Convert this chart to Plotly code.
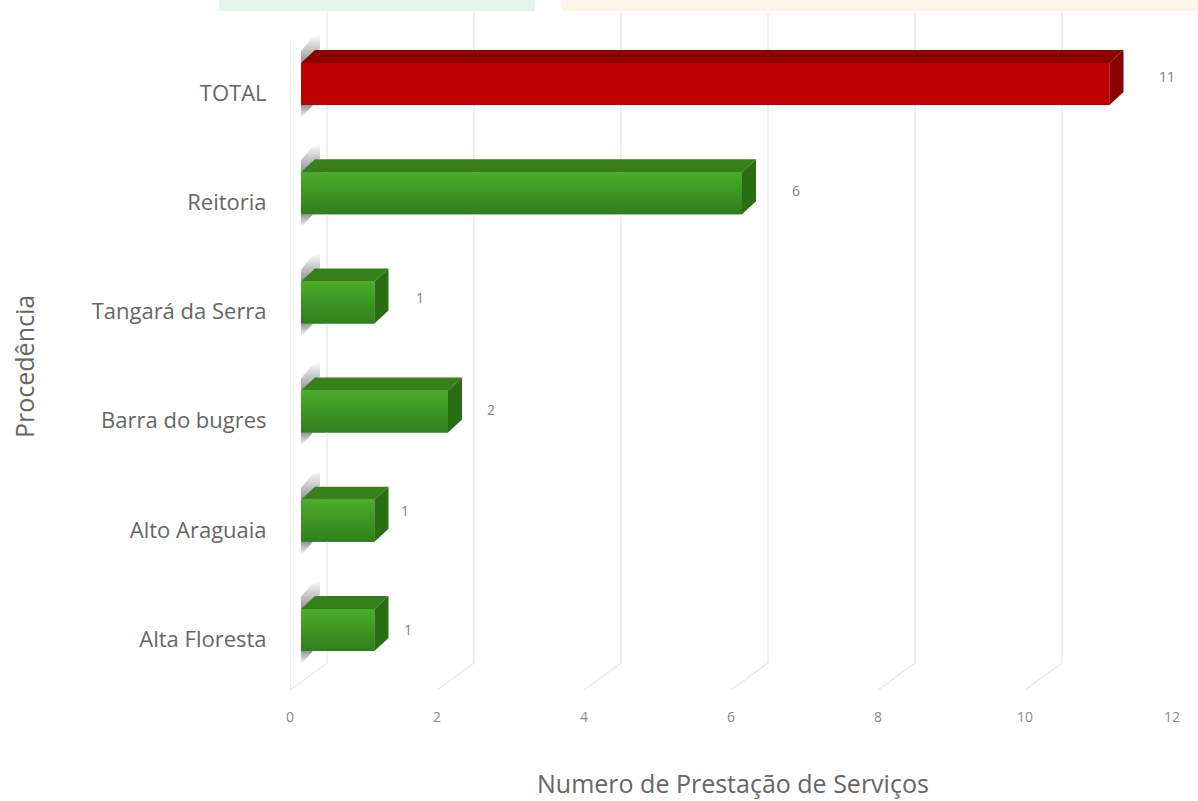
import plotly.graph_objects as go

# --- data ---
categories = ["Alta Floresta", "Alto Araguaia", "Barra do bugres", "Tangará da Serra", "Reitoria", "TOTAL"]
values = [1, 1, 2, 1, 6, 11]
x_ticks = [0, 2, 4, 6, 8, 10, 12]
label_dx = [33, 30, 43, 45, 54, 57]
label_dy = [10, 19, 11, 14, 12, 17]

# --- geometry (pixels to axis units) ---
W, H = 1198, 801
L, R, T, B = 290, 1172, 12, 690
PX_X = (R - L) / 12
PX_Y = 109.2
Y0_PX = 639
y_lo = -(B - Y0_PX) / PX_Y
y_hi = (Y0_PX - T) / PX_Y

base = 11 / PX_X
bar_w = 42 / PX_Y
bar_off = 9 / PX_Y - bar_w / 2
dep_x = 14 / PX_X
dep_y = 13 / PX_Y

GREEN = ("#4cab2b", "#2f7f1b", "#377f18", "#2a6e13")
RED = ("#c00000", "#bd0000", "#8d0000", "#8a0000")

fig = go.Figure()

# wall and floor grid lines
wall_dx = 37 / PX_X
wall_dy = 27 / PX_Y
for v in x_ticks:
    xs = [v + wall_dx, v + wall_dx, v]
    ys = [y_hi, y_lo + wall_dy, y_lo]
    if v == 0:
        xs += [0]
        ys += [(Y0_PX - 40) / PX_Y]
    fig.add_trace(go.Scatter(x=xs, y=ys, mode="lines", cliponaxis=False,
                             line=dict(color="#e8e8e8", width=1.3),
                             hoverinfo="skip", showlegend=False))

# flat front faces
fig.add_trace(go.Bar(y=list(range(len(categories))), x=values, base=[base] * len(values),
                     orientation="h", width=bar_w, offset=bar_off,
                     marker=dict(color=[RED[0] if c == "TOTAL" else GREEN[1] for c in categories],
                                 line=dict(width=0)),
                     hoverinfo="skip", showlegend=False))

SH = "rgba(95,95,100,0.68)"
SH0 = "rgba(95,95,100,0)"

for i, (c, v) in enumerate(zip(categories, values)):
    cols = RED if c == "TOTAL" else GREEN
    yb = i + bar_off
    yt = yb + bar_w
    x0 = base
    x1 = base + v
    # soft shadow on the wall, above and below the bar
    fig.add_trace(go.Scatter(
        x=[x0, x0 + 19 / PX_X, x0 + 19 / PX_X, x0 + 10 / PX_X, x0, x0],
        y=[yt, yt + 14 / PX_Y, yt + 29 / PX_Y, yt + 24 / PX_Y, yt + 12 / PX_Y, yt],
        mode="lines", fill="toself", line=dict(width=0),
        fillgradient=dict(type="vertical", colorscale=[[0, SH], [1, SH0]]),
        hoverinfo="skip", showlegend=False))
    fig.add_trace(go.Scatter(
        x=[x0, x0 + 12 / PX_X, x0 + 4 / PX_X, x0, x0],
        y=[yb, yb, yb - 9 / PX_Y, yb - 13 / PX_Y, yb],
        mode="lines", fill="toself", line=dict(width=0),
        fillgradient=dict(type="vertical", colorscale=[[0, SH0], [1, SH]]),
        hoverinfo="skip", showlegend=False))
    # top face
    fig.add_trace(go.Scatter(x=[x0, x0 + dep_x, x1 + dep_x, x1, x0], y=[yt, yt + dep_y, yt + dep_y, yt, yt],
                             mode="lines", fill="toself", line=dict(width=0), fillcolor=cols[2],
                             hoverinfo="skip", showlegend=False))
    # side face
    fig.add_trace(go.Scatter(x=[x1, x1 + dep_x, x1 + dep_x, x1, x1], y=[yb, yb + dep_y, yt + dep_y, yt, yb],
                             mode="lines", fill="toself", line=dict(width=0), fillcolor=cols[3],
                             hoverinfo="skip", showlegend=False))
    # gradient front face
    fig.add_trace(go.Scatter(x=[x0, x1, x1, x0, x0], y=[yb, yb, yt, yt, yb],
                             mode="lines", fill="toself", line=dict(width=0),
                             fillgradient=dict(type="vertical",
                                               colorscale=[[0, cols[1]], [1, cols[0]]]),
                             hoverinfo="skip", showlegend=False))

FONT = "Open Sans"
annotations = [
    dict(x=base + v, y=i, xref="x", yref="y", text=str(v), showarrow=False,
         xshift=dx, yshift=dy, font=dict(family=FONT, size=14, color="#808080"))
    for i, (v, dx, dy) in enumerate(zip(values, label_dx, label_dy))
]
annotations.append(dict(xref="paper", yref="paper", x=(24 - L) / (R - L), y=(B - 367) / (B - T),
                        xanchor="center", yanchor="middle",
                        text="Procedência", textangle=-90, showarrow=False,
                        font=dict(family=FONT, size=25, color="#666666")))
annotations.append(dict(xref="paper", yref="paper", x=(733 - L) / (R - L), y=(B - 783) / (B - T),
                        xanchor="center", yanchor="middle",
                        text="Numero de Prestação de Serviços", showarrow=False,
                        font=dict(family=FONT, size=25, color="#666666")))

# faded banner remains at the top edge
shapes = [
    dict(type="rect", xref="paper", yref="paper", x0=(219 - L) / (R - L), x1=(535 - L) / (R - L),
         y0=(B - 11) / (B - T), y1=1 + T / (B - T), fillcolor="#e5f4ea", line_width=0, layer="below"),
    dict(type="rect", xref="paper", yref="paper", x0=(562 - L) / (R - L), x1=(W - L) / (R - L),
         y0=(B - 11) / (B - T), y1=1 + T / (B - T), fillcolor="#fff4e9", line_width=0, layer="below"),
]

fig.update_layout(
    width=W, height=H,
    margin=dict(l=L, r=W - R, t=T, b=H - B, pad=0),
    paper_bgcolor="white", plot_bgcolor="rgba(0,0,0,0)",
    barmode="overlay",
    showlegend=False,
    font=dict(family=FONT),
    annotations=annotations,
    shapes=shapes,
    xaxis=dict(range=[0, 12], tickvals=x_ticks, showgrid=False, zeroline=False, showline=False,
               automargin=False,
               ticks="outside", ticklen=14, tickcolor="rgba(0,0,0,0)",
               tickfont=dict(family=FONT, size=14, color="#8a8a8a")),
    yaxis=dict(range=[y_lo, y_hi], tickvals=list(range(len(categories))), ticktext=categories,
               showgrid=False, zeroline=False, showline=False,
               automargin=False,
               ticks="outside", ticklen=18, tickcolor="rgba(0,0,0,0)",
               tickfont=dict(family=FONT, size=22, color="#666666")),
)

fig.write_html("out.html", config={"displayModeBar": False},
               post_script="document.body.style.margin='0';")
